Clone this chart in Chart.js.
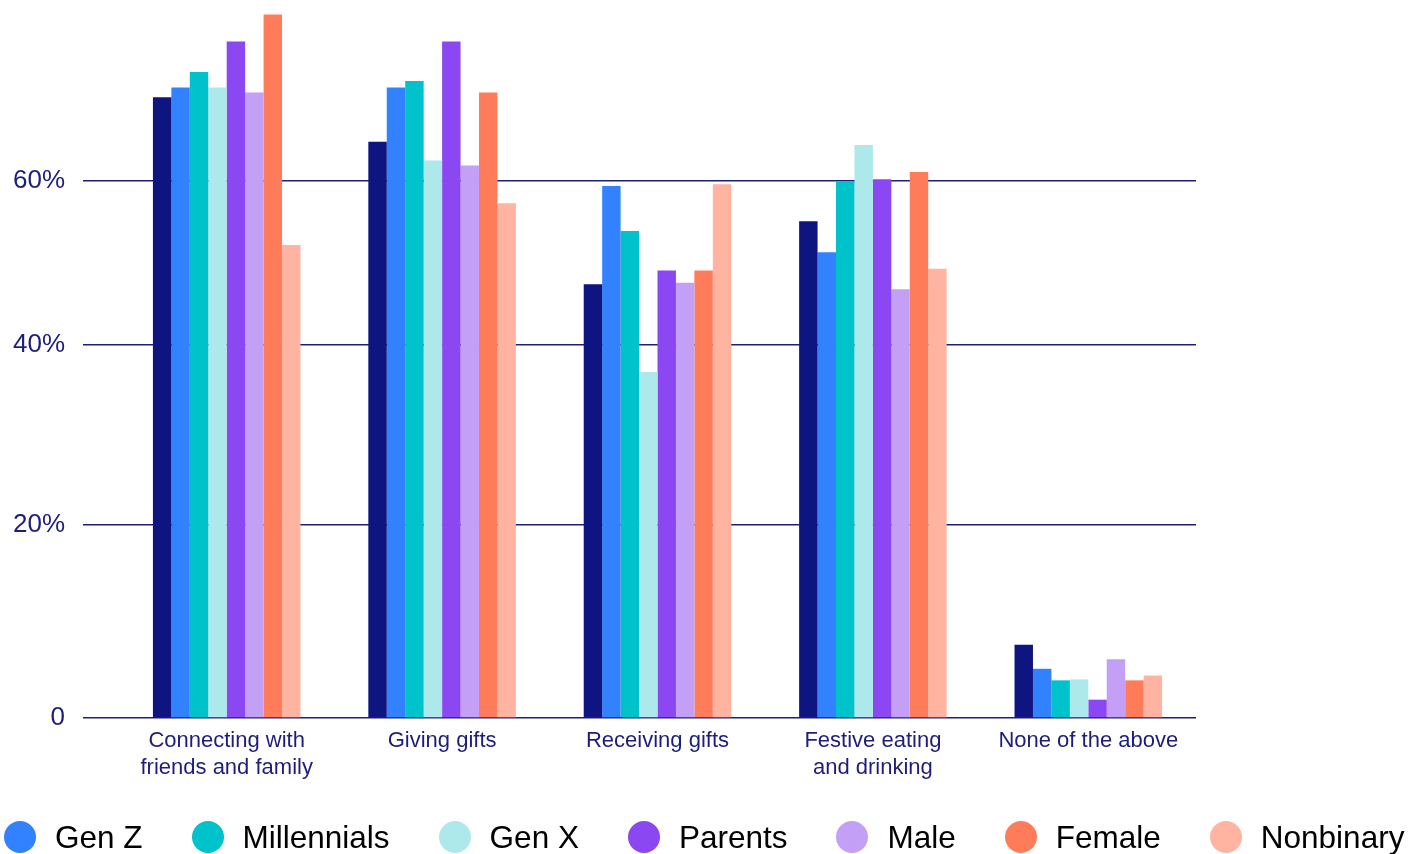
<!DOCTYPE html>
<html lang="en">
<head>
<meta charset="utf-8">
<title>What people look forward to this holiday season</title>
<script src="https://cdn.jsdelivr.net/npm/chart.js@4.4.1/dist/chart.umd.min.js"></script>
<style>
  html, body { margin: 0; padding: 0; background: #ffffff; overflow: hidden; }
  #frame { position: relative; width: 1424px; height: 854px; }
  #chart { display: block; }
  #key {
    position: absolute; left: 4px; top: 821px; height: 32px;
    display: flex; align-items: center; white-space: nowrap;
    font-family: "Liberation Sans", Arial, Helvetica, sans-serif;
    font-size: 31.5px; line-height: 32px; color: #000000;
  }
  #key .item { display: flex; align-items: center; margin-right: 49px; }
  #key .dot { width: 32px; height: 32px; border-radius: 50%; margin-right: 19px; flex: none; }
</style>
</head>
<body>
<div id="frame">
  <canvas id="chart" width="1424" height="854"></canvas>
  <div id="key"></div>
</div>
<script>
// ---- data -------------------------------------------------------------
const categories = [
  ['Connecting with', 'friends and family'],
  'Giving gifts',
  'Receiving gifts',
  ['Festive eating', 'and drinking'],
  'None of the above'
];

// share of respondents (%) per activity, one array per group
const allRespondents = [70.2, 64.8, 47.4, 55.1, 7.6];
const genZ           = [71.4, 71.4, 59.4, 51.3, 5.1];
const millennials    = [73.3, 72.2, 53.9, 60.0, 3.9];
const genX           = [71.4, 62.5, 37.0, 64.4, 4.0];
const parents        = [77.0, 77.0, 49.1, 60.2, 1.9];
const male           = [70.8, 61.9, 47.6, 46.8, 6.1];
const female         = [80.3, 70.8, 49.1, 61.1, 3.9];
const nonbinary      = [52.2, 57.3, 59.6, 49.3, 4.4];

const seriesNames  = ['All respondents', 'Gen Z', 'Millennials', 'Gen X', 'Parents', 'Male', 'Female', 'Nonbinary'];
const seriesValues = [allRespondents, genZ, millennials, genX, parents, male, female, nonbinary];

const tickValues = [0, 20, 40, 60];
const tickLabels = ['0', '20%', '40%', '60%'];

// ---- styling ----------------------------------------------------------
const seriesColors = ['#0F1580', '#3282FF', '#00C2CB', '#ADE8EA', '#8B48F2', '#C3A0F5', '#FF7C5A', '#FFB3A1'];
const inkNavy = '#1D1E7C';
const ruleNavy = '#1F1F7A';

// The value axis is drawn with uneven 20-point bands; each band's height
// (relative) is listed here, topped by the headroom above 60%.
const axisStops   = [0, 20, 40, 60, 81.1];
const bandHeights = [193, 180, 164, 173];

const bandTotal = bandHeights.reduce((a, b) => a + b, 0);
const bandStarts = bandHeights.map((_, i) =>
  bandHeights.slice(0, i).reduce((a, b) => a + b, 0) / bandTotal);

function valueToDecimal(v) {
  let i = 0;
  while (i < bandHeights.length - 1 && v > axisStops[i + 1]) i++;
  const t = (v - axisStops[i]) / (axisStops[i + 1] - axisStops[i]);
  return bandStarts[i] + t * bandHeights[i] / bandTotal;
}
function decimalToValue(d) {
  let i = 0;
  while (i < bandHeights.length - 1 && d > bandStarts[i + 1]) i++;
  const t = (d - bandStarts[i]) * bandTotal / bandHeights[i];
  return axisStops[i] + t * (axisStops[i + 1] - axisStops[i]);
}

// Linear scale whose value-to-pixel mapping follows the bands above.
class BandedScale extends Chart.LinearScale {
  getPixelForValue(value) {
    if (value === null || value === undefined || Number.isNaN(value)) return NaN;
    return this.getPixelForDecimal(valueToDecimal(value));
  }
  getValueForPixel(pixel) {
    return decimalToValue(this.getDecimalForPixel(pixel));
  }
}
BandedScale.id = 'banded';
Chart.register(BandedScale);

Chart.defaults.font.family = '"Liberation Sans", Arial, Helvetica, sans-serif';

const chart = new Chart(document.getElementById('chart'), {
  type: 'bar',
  data: {
    labels: categories,
    datasets: seriesNames.map((label, i) => ({
      label,
      data: seriesValues[i],
      backgroundColor: seriesColors[i],
      borderWidth: 0
    }))
  },
  options: {
    responsive: false,
    animation: false,
    layout: { padding: { top: 8, left: 0, right: 228, bottom: 72 } },
    datasets: { bar: { barPercentage: 1, categoryPercentage: 0.685 } },
    plugins: {
      legend: { display: false },
      tooltip: { enabled: true }
    },
    scales: {
      x: {
        grid: { display: false, drawTicks: false },
        border: { display: false },
        ticks: {
          color: inkNavy,
          font: { size: 22, lineHeight: 1.23 },
          padding: 9.5,
          maxRotation: 0,
          autoSkip: false
        },
        afterFit: (scale) => { scale.height = 64; }
      },
      y: {
        type: 'banded',
        min: axisStops[0],
        max: axisStops[axisStops.length - 1],
        afterBuildTicks: (scale) => { scale.ticks = tickValues.map(value => ({ value })); },
        afterFit: (scale) => { scale.width = 119; scale.paddingTop = 0; scale.paddingBottom = 0; },
        grid: { color: ruleNavy, lineWidth: 1.5, drawTicks: true, tickLength: 36, tickColor: ruleNavy, tickWidth: 1.5 },
        border: { display: false },
        ticks: {
          color: inkNavy,
          font: { size: 26 },
          padding: 18,
          callback: (value, index) => tickLabels[index]
        }
      }
    }
  }
});

// Key row under the plot; the overall column has no entry of its own.
const key = document.getElementById('key');
Chart.defaults.plugins.legend.labels.generateLabels(chart)
  .filter(item => item.datasetIndex !== 0)
  .forEach(item => {
    const row = document.createElement('div');
    row.className = 'item';
    const dot = document.createElement('span');
    dot.className = 'dot';
    dot.style.background = item.fillStyle;
    const text = document.createElement('span');
    text.textContent = item.text;
    row.append(dot, text);
    key.appendChild(row);
  });
</script>
</body>
</html>
